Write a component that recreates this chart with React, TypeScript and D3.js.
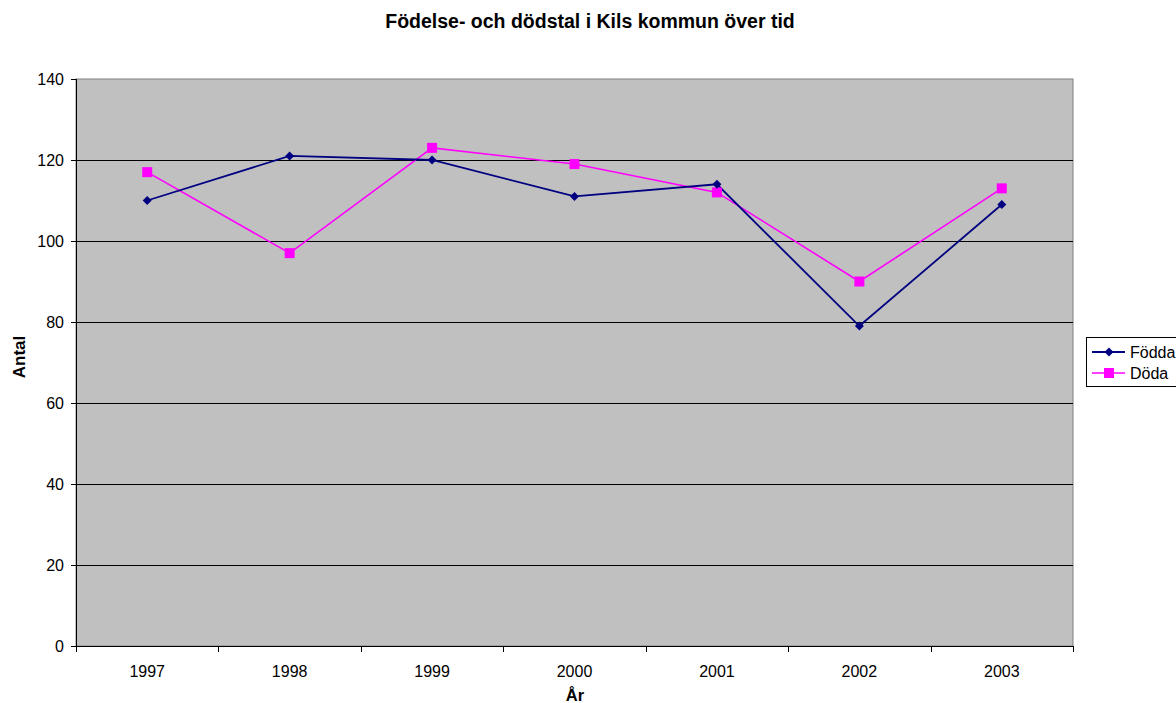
import React from "react";
import * as d3 from "d3";

const years = ["1997", "1998", "1999", "2000", "2001", "2002", "2003"];
const fodda = [110, 121, 120, 111, 114, 79, 109];
const doda = [117, 97, 123, 119, 112, 90, 113];
const yTicks = [0, 20, 40, 60, 80, 100, 120, 140];

const W = 1176;
const H = 703;
const M = { left: 76, right: 1073, top: 79, bottom: 646 };
const FONT = "'Liberation Sans', Arial, sans-serif";

export default function App() {
  const x = d3.scaleBand<string>().domain(years).range([M.left, M.right]);
  const y = d3.scaleLinear().domain([0, 140]).range([M.bottom, M.top]);
  const cx = (d: string) => (x(d) as number) + x.bandwidth() / 2;
  const line = d3
    .line<number>()
    .x((_, i) => cx(years[i]))
    .y((v) => y(v));
  const diamond = (px: number, py: number, r = 4.5) =>
    `M${px},${py - r}L${px + r},${py}L${px},${py + r}L${px - r},${py}Z`;

  const boundaries = years.map((d) => x(d) as number).concat([M.right]);

  return (
    <svg width={W} height={H} style={{ position: "absolute", left: 0, top: 0 }}>
      <rect x={0} y={0} width={W} height={H} fill="#fff" />
      <text x={590} y={28} textAnchor="middle" fontFamily={FONT} fontWeight="bold" fontSize={19.5}>
        Födelse- och dödstal i Kils kommun över tid
      </text>
      <rect x={M.left} y={M.top} width={M.right - M.left} height={M.bottom - M.top} fill="#c0c0c0" stroke="#808080" strokeWidth={1} />
      {yTicks.filter((t) => t !== 0 && t !== 140).map((t) => (
        <line key={t} x1={M.left} x2={M.right} y1={Math.round(y(t)) + 0.5} y2={Math.round(y(t)) + 0.5} stroke="#000" strokeWidth={1} />
      ))}
      {/* axes */}
      <line x1={M.left + 0.5} x2={M.left + 0.5} y1={M.top} y2={M.bottom} stroke="#000" />
      <line x1={M.left} x2={M.right} y1={M.bottom + 0.5} y2={M.bottom + 0.5} stroke="#000" />
      {yTicks.map((t) => (
        <g key={t}>
          <line x1={M.left - 5} x2={M.left} y1={Math.round(y(t)) + 0.5} y2={Math.round(y(t)) + 0.5} stroke="#000" />
          <text x={M.left - 12} y={y(t) + 6} textAnchor="end" fontFamily={FONT} fontSize={16}>
            {t}
          </text>
        </g>
      ))}
      {boundaries.map((b, i) => (
        <line key={i} x1={Math.round(b) + 0.5} x2={Math.round(b) + 0.5} y1={M.bottom} y2={M.bottom + 6} stroke="#000" />
      ))}
      {years.map((d) => (
        <text key={d} x={cx(d)} y={677} textAnchor="middle" fontFamily={FONT} fontSize={16}>
          {d}
        </text>
      ))}
      <text x={575} y={701} textAnchor="middle" fontFamily={FONT} fontWeight="bold" fontSize={16.5}>
        År
      </text>
      <text transform={`translate(25,${357}) rotate(-90)`} textAnchor="middle" fontFamily={FONT} fontWeight="bold" fontSize={17}>
        Antal
      </text>
      {/* series */}
      <path d={line(doda) as string} fill="none" stroke="#ff00ff" strokeWidth={1.6} />
      <path d={line(fodda) as string} fill="none" stroke="#000080" strokeWidth={1.8} />
      {doda.map((v, i) => (
        <rect key={i} x={cx(years[i]) - 5} y={y(v) - 5} width={10} height={10} fill="#ff00ff" />
      ))}
      {fodda.map((v, i) => (
        <path key={i} d={diamond(cx(years[i]), y(v), 4.5)} fill="#000080" />
      ))}
      {/* legend */}
      <rect x={1086.5} y={337.5} width={100} height={49} fill="#fff" stroke="#000" strokeWidth={1} />
      <line x1={1092} x2={1125} y1={352} y2={352} stroke="#000080" strokeWidth={1.8} />
      <path d={diamond(1109, 352, 4.5)} fill="#000080" />
      <text x={1130} y={358} fontFamily={FONT} fontSize={16}>Födda</text>
      <line x1={1092} x2={1125} y1={373} y2={373} stroke="#ff00ff" strokeWidth={1.6} />
      <rect x={1104} y={368} width={10} height={10} fill="#ff00ff" />
      <text x={1130} y={379} fontFamily={FONT} fontSize={16}>Döda</text>
    </svg>
  );
}
